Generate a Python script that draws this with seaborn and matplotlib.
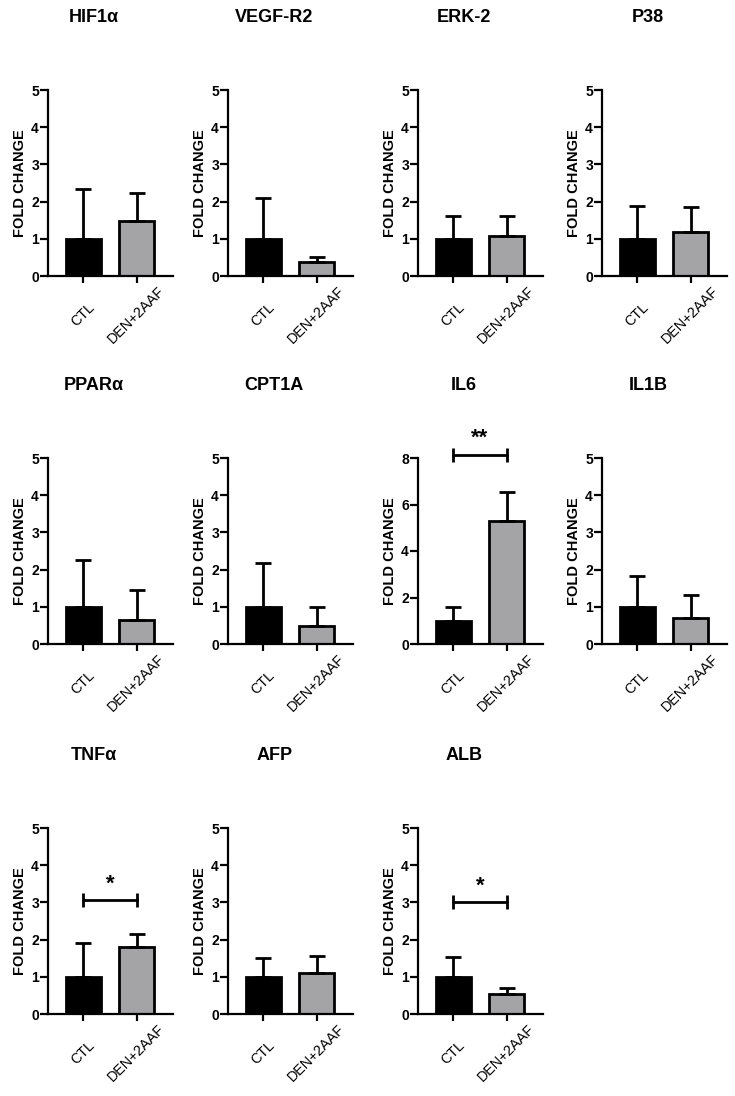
import matplotlib
matplotlib.use("Agg")
import matplotlib.pyplot as plt
from matplotlib.transforms import ScaledTranslation
import seaborn as sns
import pandas as pd

# -----------------------------
# Data
# -----------------------------
genes = ["HIF1α", "VEGF-R2", "ERK-2", "P38",
         "PPARα", "CPT1A", "IL6", "IL1B",
         "TNFα", "AFP", "ALB"]
groups = ["CTL", "DEN+2AAF"]

ctl_mean = [1.00, 1.00, 1.00, 1.00, 1.00, 1.00, 1.00, 1.00, 1.00, 1.00, 1.00]
ctl_sd = [1.35, 1.10, 0.62, 0.87, 1.25, 1.19, 0.58, 0.82, 0.92, 0.50, 0.54]
den_mean = [1.48, 0.38, 1.08, 1.18, 0.64, 0.48, 5.28, 0.69, 1.80, 1.09, 0.54]
den_sd = [0.75, 0.13, 0.53, 0.68, 0.80, 0.51, 1.26, 0.62, 0.36, 0.46, 0.16]

y_max = [5, 5, 5, 5, 5, 5, 8, 5, 5, 5, 5]
y_step = [1, 1, 1, 1, 1, 1, 2, 1, 1, 1, 1]

# significance brackets: gene -> (label, bracket height)
sig_marks = {"IL6": ("**", 8.15), "TNFα": ("*", 3.06), "ALB": ("*", 3.01)}

colors = ["black", "#a4a3a8"]

# -----------------------------
# Style
# -----------------------------
sns.set_style("ticks")
plt.rcParams["font.family"] = ["Liberation Sans", "DejaVu Sans"]
for key in ["text.color", "axes.labelcolor", "xtick.color", "ytick.color",
            "axes.edgecolor"]:
    plt.rcParams[key] = "black"

W, H = 735, 1096
fig = plt.figure(figsize=(W / 100, H / 100), dpi=100)

col_left = [48, 228, 418, 602]
row_top = [90, 458, 828]
ax_w, ax_h = 125, 186

for i, gene in enumerate(genes):
    r, c = divmod(i, 4)
    x0 = col_left[c]
    y0 = row_top[r]
    ax = fig.add_axes([x0 / W, 1 - (y0 + ax_h) / H, ax_w / W, ax_h / H])

    df = pd.DataFrame({
        "group": groups,
        "mean": [ctl_mean[i], den_mean[i]],
        "sd": [ctl_sd[i], den_sd[i]],
    })

    sns.barplot(data=df, x="group", y="mean", hue="group", order=groups,
                hue_order=groups, palette=colors, legend=False, width=0.65,
                edgecolor="black", linewidth=2, errorbar=None, ax=ax)

    # upper error bars only (GraphPad style)
    ax.errorbar([0, 1], df["mean"], yerr=[[0, 0], df["sd"]], fmt="none",
                ecolor="black", elinewidth=2, capsize=6, capthick=2,
                zorder=3, clip_on=False)

    ax.set_xlim(-0.66, 1.68)
    ax.set_ylim(0, y_max[i])
    ax.set_yticks(range(0, y_max[i] + 1, y_step[i]))
    ax.set_xlabel("")
    ax.set_ylabel("FOLD CHANGE", fontsize=10.5, fontweight="bold", labelpad=3)

    for lab in ax.get_yticklabels():
        lab.set_fontweight("bold")
        lab.set_fontsize(10)
    ax.set_xticks([0, 1])
    ax.set_xticklabels(groups, rotation=45, ha="center", va="center",
                       rotation_mode="anchor", fontsize=10.3)
    shift = ScaledTranslation(-4 / 100, 0, fig.dpi_scale_trans)
    for lab in ax.get_xticklabels():
        lab.set_transform(lab.get_transform() + shift)

    sns.despine(ax=ax)
    for s in ["left", "bottom"]:
        ax.spines[s].set_linewidth(1.6)
    ax.tick_params(axis="y", width=1.6, length=5.5, pad=1)
    ax.tick_params(axis="x", width=1.6, length=5, pad=23)

    ax.text(0.37, 1.39, gene, transform=ax.transAxes, ha="center",
            va="center", fontsize=13, fontweight="bold")

    if gene in sig_marks:
        label, yb = sig_marks[gene]
        ax.plot([0, 1], [yb, yb], color="black", lw=2, marker="|",
                markersize=10, markeredgewidth=2, clip_on=False)
        ax.annotate(label, (0.5, yb), xytext=(0, 4), textcoords="offset points",
                    ha="center", va="bottom", fontsize=16, fontweight="bold",
                    annotation_clip=False)

plt.savefig("out.png", dpi=100)
